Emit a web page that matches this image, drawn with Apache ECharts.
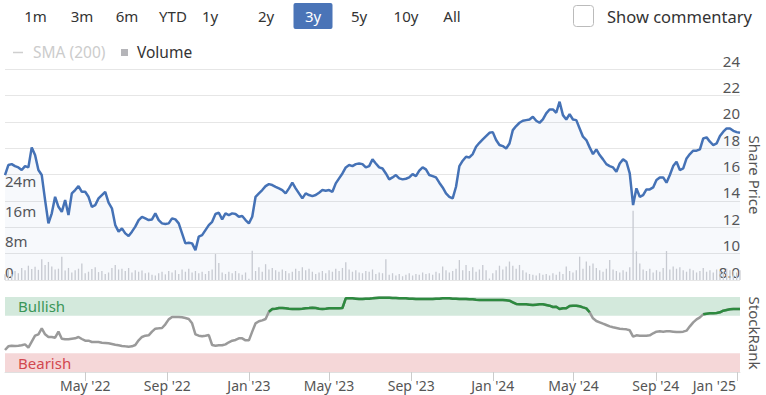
<!DOCTYPE html>
<html>
<head>
<meta charset="utf-8">
<script src="https://cdn.jsdelivr.net/npm/echarts@6/dist/echarts.min.js"></script>
<style>
html,body{margin:0;padding:0;background:#fff;}
#chart{width:766px;height:395px;}
</style>
</head>
<body>
<div id="chart"></div>
<script>
// ---- data ----
const startDate = '2022-01-01';
const stepDays = 5;
const axisMin = '2022-01-01';
const axisMax = '2025-01-05';

const sharePrice = [
15.97,16.73,16.80,16.65,16.55,16.35,16.65,16.55,18.07,17.49,
16.35,15.97,14.07,12.30,13.06,14.32,13.56,13.18,14.07,12.93,
14.58,14.83,15.13,14.70,14.70,14.32,13.56,13.69,14.20,14.45,
14.70,13.87,13.44,12.17,11.67,11.92,11.54,11.34,11.67,12.05,
12.55,12.80,12.68,12.55,12.60,13.06,12.55,12.30,12.25,12.30,
12.68,12.60,12.30,11.54,10.78,10.83,10.78,10.27,11.29,11.41,
11.79,12.17,12.42,13.01,13.11,12.60,13.06,12.93,13.06,13.01,
12.80,12.86,12.55,12.30,12.80,14.32,14.58,14.83,15.13,15.28,
15.21,15.08,14.96,14.83,14.58,14.96,15.39,14.96,14.58,14.20,
14.58,14.45,14.37,14.45,14.63,14.83,14.78,14.83,14.70,15.34,
15.72,16.09,16.55,16.73,16.65,16.80,16.85,16.80,16.55,16.65,
17.16,16.85,16.55,16.47,
16.09,15.64,15.79,15.97,15.72,15.64,15.69,15.79,16.04,15.89,
16.30,16.55,16.40,15.97,15.89,15.79,15.39,15.03,14.58,14.32,
14.20,15.08,16.65,17.06,17.36,17.31,17.56,18.12,18.42,18.68,
18.93,19.18,19.23,18.63,18.25,18.17,17.99,18.37,19.38,19.69,
19.94,20.09,20.14,20.19,20.40,20.09,19.94,20.19,20.65,20.95,
20.95,20.70,21.54,20.52,20.19,20.60,20.19,20.14,19.51,18.88,
18.63,18.07,17.56,17.92,17.49,17.16,16.80,16.65,16.55,16.22,
16.85,17.16,16.98,16.09,13.69,14.96,14.32,14.45,14.88,14.88,
15.03,15.59,15.79,15.79,15.39,15.97,16.65,16.98,16.35,16.47,
17.23,17.56,17.82,17.82,17.92,18.75,18.83,18.50,18.25,18.37,
18.93,19.26,19.51,19.51,19.33,19.23,19.18
];

const volumeM = [
1.5,2.8,1.6,2.4,1.8,3.2,2.6,3.8,2.9,3.5,
2.7,5.5,4.0,4.8,3.6,2.8,3.0,6.2,2.5,3.2,
2.0,2.6,3.0,4.4,1.8,2.2,2.9,3.4,2.1,2.4,
1.6,2.0,3.2,4.0,2.8,3.0,2.4,3.2,2.0,2.6,
2.2,2.5,1.8,2.0,1.4,1.2,1.8,2.2,1.5,2.4,
2.0,2.6,1.6,2.8,2.2,3.0,2.0,2.4,1.8,2.2,
1.6,2.4,2.8,6.9,4.5,2.0,1.6,2.2,1.8,2.4,
1.8,1.4,2.0,0.3,7.8,2.4,3.4,2.2,4.2,2.8,
3.2,2.6,2.2,2.8,2.4,1.8,2.2,3.0,2.4,3.4,
2.6,3.0,2.2,1.6,2.0,2.4,1.8,2.6,2.2,3.0,
2.4,3.2,4.7,2.8,2.2,2.6,2.0,1.8,2.4,2.2,
2.8,1.6,2.0,1.8,
5.5,1.4,1.8,1.2,1.6,1.0,1.4,1.8,1.2,1.6,
1.4,2.0,1.6,1.8,1.4,2.2,1.8,3.6,2.6,2.0,
2.4,3.0,5.3,2.6,4.0,2.4,3.4,2.2,2.8,4.0,
2.6,0.4,1.8,2.6,3.8,2.8,3.6,4.9,3.8,3.0,
4.0,2.6,2.0,1.6,1.4,1.2,1.8,1.4,1.6,1.2,
1.8,1.4,2.2,1.6,3.6,2.4,2.0,2.6,6.2,3.0,
4.9,3.8,4.4,3.2,2.6,2.2,3.0,5.3,2.8,2.4,
2.0,2.6,2.2,3.4,18.4,7.6,4.4,2.8,2.4,3.0,
2.0,2.6,2.2,3.2,7.7,2.8,3.6,3.0,3.4,2.6,
2.2,3.0,2.6,2.0,2.4,3.2,2.2,2.6,2.0,2.8,
2.4,2.2,3.0,2.6,2.4,2.0,2.6
];

const stockRank = [
29.3,34.2,35.1,34.7,35.1,35.6,36.9,32.4,40.4,48.4,
50.2,58.2,50.2,46.7,46.7,45.8,53.8,44.4,43.6,43.6,
44.4,44.9,46.7,44.0,41.8,41.8,40.0,40.0,40.0,39.1,
38.7,38.2,37.3,36.4,35.6,34.7,34.2,33.8,34.2,36.0,
42.2,46.7,48.4,48.9,53.8,57.8,58.2,58.7,63.6,70.2,
73.3,73.3,73.3,72.9,72.0,70.7,64.9,50.2,48.4,47.6,
48.4,49.3,36.0,35.1,35.6,35.6,36.9,39.6,41.8,42.7,
44.9,44.9,42.2,42.2,53.8,64.9,67.6,68.9,70.7,80.4,
84.0,84.4,85.3,85.3,84.9,84.4,84.0,84.0,84.0,84.4,
84.9,85.3,85.8,85.3,84.4,84.0,84.4,84.9,84.9,84.9,
84.9,85.3,98.2,98.2,98.2,97.8,97.3,97.3,97.8,97.8,
98.2,98.7,99.1,99.1,
99.1,99.1,98.7,98.7,98.2,98.2,98.2,97.8,97.8,97.3,
97.3,97.3,97.3,97.3,97.3,97.8,97.8,98.2,98.2,98.2,
97.8,97.8,97.3,97.3,97.3,96.9,96.9,96.4,96.0,96.0,
96.0,96.0,96.0,96.0,96.0,96.0,95.6,95.1,92.9,90.7,
90.2,90.2,90.2,89.8,89.3,89.8,90.2,90.2,89.3,88.4,
86.7,87.1,84.0,84.9,84.9,88.0,88.4,88.4,87.6,86.2,
84.9,79.6,71.6,68.0,66.2,64.4,62.7,60.9,59.6,58.7,
57.8,57.3,56.9,55.6,47.1,48.9,48.4,48.4,48.4,48.9,
51.6,53.8,54.2,53.8,54.2,54.2,53.8,53.3,53.3,53.8,
55.1,60.9,66.2,70.2,72.9,76.9,77.8,78.2,78.2,78.7,
79.6,81.8,82.7,83.6,84.0,84.0,84.0
];

const bullishThreshold = 75;
const priceTicks = [8, 10, 12, 14, 16, 18, 20, 22, 24];
const volumeTickLabels = ['0', '8m', '16m', '24m'];
const monthTicks = ['2022-05-01','2022-09-01','2023-01-01','2023-05-01','2023-09-01','2024-01-01','2024-05-01','2024-09-01','2025-01-01'];
const monthNames = ['Jan','Feb','Mar','Apr','May','Jun','Jul','Aug','Sep','Oct','Nov','Dec'];
const rangeButtons = ['1m','3m','6m','YTD','1y','2y','3y','5y','10y','All'];
const rangeButtonX = [35.5, 82, 127, 173, 210, 266, 313, 359, 406, 452];
const selectedRange = '3y';
const bands = [{name:'Bullish', from:75, to:100}, {name:'Bearish', from:0, to:25}];
const axisTitles = [{text:'Share Price', y:175}, {text:'StockRank', y:333}];

// ---- build ----
const DAY = 86400000;
const t0 = Date.parse(startDate + 'T00:00:00Z');
const dates = sharePrice.map((_, i) => t0 + i * stepDays * DAY);
const tMin = Date.parse(axisMin + 'T00:00:00Z');
const tMax = Date.parse(axisMax + 'T00:00:00Z');
const tickTs = monthTicks.map(d => Date.parse(d + 'T00:00:00Z'));
const lastTick = tickTs[tickTs.length - 1];

const FONT = '"Noto Sans", "DejaVu Sans", sans-serif';
const chart = echarts.init(document.getElementById('chart'), null, {renderer: 'svg'});

const graphics = [];
rangeButtons.forEach((b, i) => {
  if (b === selectedRange) {
    graphics.push({type:'rect', shape:{x: rangeButtonX[i]-19.5, y:3, width:39, height:26, r:2}, style:{fill:'#4a74b7'}});
  }
  graphics.push({type:'text', x: rangeButtonX[i], y: 16, style:{text:b, fill: b === selectedRange ? '#fff' : '#333', font: '15px ' + FONT, align:'center', verticalAlign:'middle'}});
});
graphics.push({type:'rect', shape:{x:573.5, y:5.5, width:20, height:21, r:3}, style:{fill:'#fff', stroke:'#bbb', lineWidth:1}});
graphics.push({type:'text', x:607, y:16, style:{text:'Show commentary', fill:'#333', font:'16.5px ' + FONT, verticalAlign:'middle'}});
// legend
graphics.push({type:'line', shape:{x1:13, y1:52.5, x2:23, y2:52.5}, style:{stroke:'#cfcfcf', lineWidth:1.5}});
graphics.push({type:'text', x:33, y:52, style:{text:'SMA (200)', fill:'#cccccc', font:'15.5px ' + FONT, verticalAlign:'middle'}});
graphics.push({type:'rect', shape:{x:121, y:49, width:7, height:7}, style:{fill:'#b5b5b9'}});
graphics.push({type:'text', x:137, y:52, style:{text:'Volume', fill:'#333', font:'15.5px ' + FONT, verticalAlign:'middle'}});
// axis titles (rotated, reading top to bottom)
axisTitles.forEach(a => {
  graphics.push({type:'text', x:755, y:a.y, rotation:-Math.PI/2,
    style:{text:a.text, fill:'#555', font:'15px ' + FONT, align:'center', verticalAlign:'middle'}});
});

const rankAll = dates.map((t, i) => [t, stockRank[i]]);
const rankBull = dates.map((t, i) => [t, stockRank[i] >= bullishThreshold ? stockRank[i] : null]);

function monthLabel(v) {
  const d = new Date(v);
  const s = monthNames[d.getUTCMonth()] + " '" + String(d.getUTCFullYear()).slice(2);
  return v === lastTick ? '{last|' + s + '}' : s;
}

const option = {
  animation: false,
  backgroundColor: '#fff',
  textStyle: {fontFamily: FONT},
  graphic: graphics,
  grid: [
    {left: 5, right: 26, top: 69.3, height: 210.7, outerBoundsMode: 'none', containLabel: false},
    {left: 5, right: 26, top: 297, height: 75, outerBoundsMode: 'none', containLabel: false}
  ],
  xAxis: [
    {type:'value', gridIndex:0, min:tMin, max:tMax, show:false, splitLine:{show:false}},
    {type:'value', gridIndex:1, min:tMin, max:tMax,
     axisLine:{show:true, lineStyle:{color:'#e0e0e0'}},
     axisTick:{show:true, customValues: tickTs, length:9, lineStyle:{color:'#ccc'}},
     axisLabel:{customValues: tickTs, color:'#555', fontSize:14, margin:6, formatter: monthLabel,
       rich:{last:{color:'#555', fontSize:14, padding:[0,46,0,0]}}},
     splitLine:{show:false}}
  ],
  yAxis: [
    {type:'value', gridIndex:0, position:'right', min:priceTicks[0], max:priceTicks[priceTicks.length-1], interval:2,
     axisLine:{show:false}, axisTick:{show:false},
     splitLine:{show:true, lineStyle:{color:'#e6e6e6', width:1}},
     axisLabel:{inside:true, margin:0, color:'#555', fontSize:15, verticalAlign:'bottom', padding:[0,0,1,0],
       formatter: v => priceTicks.indexOf(v) < 0 ? '' : (v === 8 ? '8.0' : String(v))}},
    {type:'value', gridIndex:0, position:'left', min:0, max:56, interval:8,
     axisLine:{show:false}, axisTick:{show:false}, splitLine:{show:false},
     axisLabel:{inside:true, margin:0, color:'#555', fontSize:15, verticalAlign:'bottom', padding:[0,0,1,0],
       formatter: v => { const i = Math.round(v / 8); return (v % 8 === 0 && i < volumeTickLabels.length) ? volumeTickLabels[i] : ''; }}},
    {type:'value', gridIndex:1, position:'right', min:0, max:100, interval:100,
     axisLine:{show:false}, axisTick:{show:false}, splitLine:{show:false},
     axisLabel:{inside:true, margin:0, color:'#555', fontSize:15, verticalAlign:'bottom', padding:[0,0,1,0],
       formatter: v => v === 0 ? '0' : ''}}
  ],
  series: [
    {type:'line', name:'Share Price', xAxisIndex:0, yAxisIndex:0, z:3, symbol:'none',
     data: dates.map((t, i) => [t, sharePrice[i]]),
     lineStyle:{color:'#4572b6', width:2.5},
     areaStyle:{color:'rgba(69,114,182,0.06)', origin:'start'}},
    {type:'bar', name:'Volume', xAxisIndex:0, yAxisIndex:1, z:2, barWidth:1.3,
     data: dates.map((t, i) => [t, volumeM[i]]),
     itemStyle:{color:'#cdced3'}},
    {type:'line', name:'bands', xAxisIndex:1, yAxisIndex:2, symbol:'none', silent:true,
     data: [[dates[0], 50]], lineStyle:{width:0, opacity:0},
     markArea:{silent:true, data: bands.map(b => [
       {yAxis:b.from, name:b.name,
        itemStyle:{color: b.name === 'Bullish' ? '#d3e9dc' : '#f5d7d8'},
        label:{show:true, position:'insideLeft', distance:13, fontSize:15,
               color: b.name === 'Bullish' ? '#3a9658' : '#d2484f'}},
       {yAxis:b.to}
     ])}},
    {type:'line', name:'StockRank', xAxisIndex:1, yAxisIndex:2, z:3, symbol:'none',
     data: rankAll, lineStyle:{width:2.5, color:'#9a9a9a'}},
    {type:'line', name:'StockRank bullish', xAxisIndex:1, yAxisIndex:2, z:4, symbol:'none',
     data: rankBull, connectNulls:false, lineStyle:{width:2.5, color:'#2d8a3f'}}
  ]
};
chart.setOption(option);
</script>
</body>
</html>
